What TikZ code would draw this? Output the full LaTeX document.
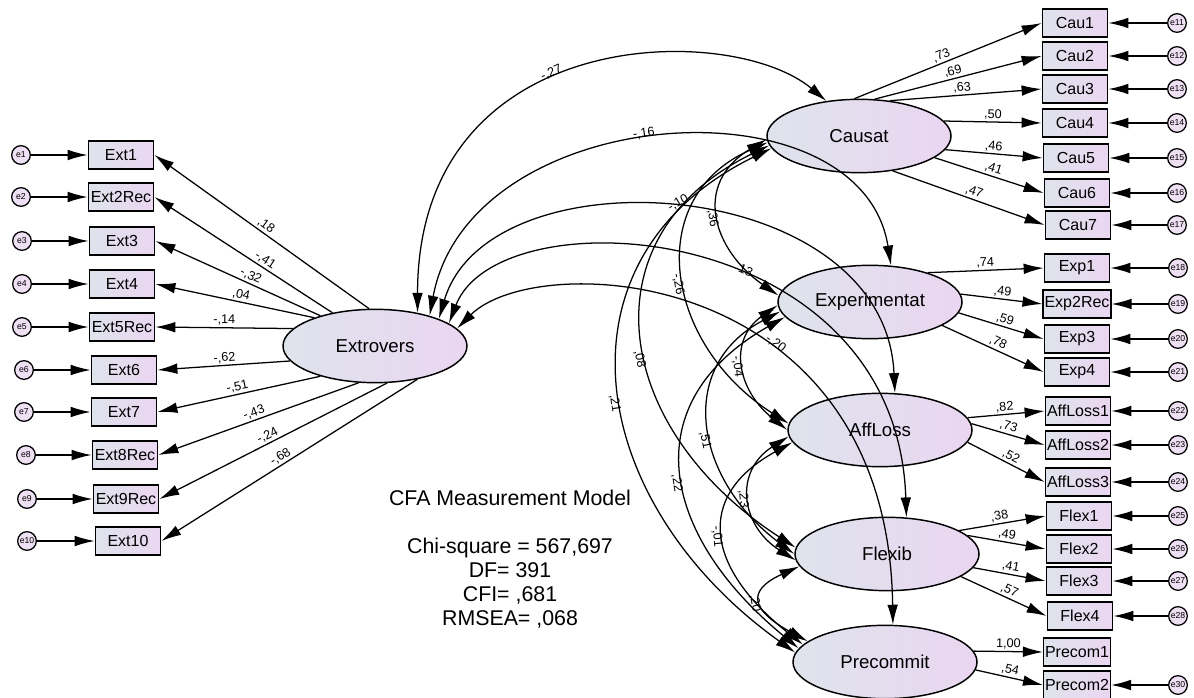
\documentclass[tikz,border=0pt]{standalone}
\usepackage{fontspec}
\setmainfont{Liberation Sans}
\usepackage{xcolor}
\usepackage{tikz}
\usetikzlibrary{arrows.meta,shapes.geometric}

\definecolor{fillL}{HTML}{DFE3EC}
\definecolor{fillR}{HTML}{EAD6F1}
\definecolor{errfill}{HTML}{EFDFF3}

\begin{document}
\begin{tikzpicture}[>={Latex[length=15pt,width=8pt]},x=0.75pt,y=-0.75pt,line width=0.95pt]
\tikzstyle{obs}=[rectangle,draw,line width=1.1pt,left color=fillL,right color=fillR,minimum width=49pt,minimum height=21pt,inner sep=1pt,font=\fontsize{12}{14}\selectfont]
\tikzstyle{lat}=[ellipse,draw,line width=1.1pt,left color=fillL,right color=fillR,minimum width=138pt,minimum height=55pt,inner sep=0pt,font=\fontsize{14}{16}\selectfont]
\tikzstyle{err}=[circle,draw,fill=errfill,minimum size=14pt,inner sep=0pt,font=\fontsize{6.5}{7}\selectfont]
\tikzstyle{lbl}=[inner sep=1.2pt,font=\fontsize{9.5}{10}\selectfont]
\useasboundingbox (0,0) rectangle (1194,698);

% latent factors
\node[lat] (ext) at (375,346) {Extrovers};
\node[lat] (cau) at (859,136) {Causat};
\node[lat] (expe) at (870,302) {Experimentat};
\node[lat] (aff) at (880,430) {AffLoss};
\node[lat] (flx) at (887,554) {Flexib};
\node[lat] (prc) at (885,662) {Precommit};

% Extrovers items
\node[obs] (ext1) at (121,155) {Ext1};
\node[obs] (ext2) at (121,197) {Ext2Rec};
\node[obs] (ext3) at (122,241) {Ext3};
\node[obs] (ext4) at (122,284) {Ext4};
\node[obs] (ext5) at (122,327) {Ext5Rec};
\node[obs] (ext6) at (124,370) {Ext6};
\node[obs] (ext7) at (124,412) {Ext7};
\node[obs] (ext8) at (125,455) {Ext8Rec};
\node[obs] (ext9) at (126,499) {Ext9Rec};
\node[obs] (ext10) at (128,541) {Ext10};
\node[err] (e1) at (21,155) {e1};
\node[err] (e2) at (21,197) {e2};
\node[err] (e3) at (22,241) {e3};
\node[err] (e4) at (22,284) {e4};
\node[err] (e5) at (22,327) {e5};
\node[err] (e6) at (24,370) {e6};
\node[err] (e7) at (24,412) {e7};
\node[err] (e8) at (26,455) {e8};
\node[err] (e9) at (27,499) {e9};
\node[err] (e10) at (27,541) {e10};

% right side items
\node[obs] (cau1) at (1075,23) {Cau1};
\node[obs] (cau2) at (1075,56) {Cau2};
\node[obs] (cau3) at (1075,89) {Cau3};
\node[obs] (cau4) at (1075,123) {Cau4};
\node[obs] (cau5) at (1076,158) {Cau5};
\node[obs] (cau6) at (1077,193) {Cau6};
\node[obs] (cau7) at (1078,225) {Cau7};
\node[obs] (expe1) at (1077,268) {Exp1};
\node[obs] (expe2) at (1077,304) {Exp2Rec};
\node[obs] (expe3) at (1077,339) {Exp3};
\node[obs] (expe4) at (1077,372) {Exp4};
\node[obs] (aff1) at (1078,411) {AffLoss1};
\node[obs] (aff2) at (1078,445) {AffLoss2};
\node[obs] (aff3) at (1078,482) {AffLoss3};
\node[obs] (flx1) at (1079,516) {Flex1};
\node[obs] (flx2) at (1079,549) {Flex2};
\node[obs] (flx3) at (1079,581) {Flex3};
\node[obs] (flx4) at (1080,616) {Flex4};
\node[obs] (prc1) at (1077,652) {Precom1};
\node[obs] (prc2) at (1077,685) {Precom2};
\node[err] (e11) at (1177,23) {e11};
\node[err] (e12) at (1177,56) {e12};
\node[err] (e13) at (1177,89) {e13};
\node[err] (e14) at (1177,123) {e14};
\node[err] (e15) at (1177,158) {e15};
\node[err] (e16) at (1177,193) {e16};
\node[err] (e17) at (1177,225) {e17};
\node[err] (e18) at (1178,268) {e18};
\node[err] (e19) at (1178,304) {e19};
\node[err] (e20) at (1178,339) {e20};
\node[err] (e21) at (1178,372) {e21};
\node[err] (e22) at (1178,411) {e22};
\node[err] (e23) at (1178,445) {e23};
\node[err] (e24) at (1178,482) {e24};
\node[err] (e25) at (1178,516) {e25};
\node[err] (e26) at (1178,549) {e26};
\node[err] (e27) at (1178,581) {e27};
\node[err] (e28) at (1178,616) {e28};
\node[err] (e30) at (1178,685) {e30};

\node[align=center,font=\fontsize{16}{18}\selectfont] (fitinfo) at (510,559) {CFA Measurement Model\\[18pt]Chi-square = 567,697\\DF= 391\\CFI= ,681\\RMSEA= ,068};

% error terms
\draw[->] (e1) -- (ext1);
\draw[->] (e2) -- (ext2);
\draw[->] (e3) -- (ext3);
\draw[->] (e4) -- (ext4);
\draw[->] (e5) -- (ext5);
\draw[->] (e6) -- (ext6);
\draw[->] (e7) -- (ext7);
\draw[->] (e8) -- (ext8);
\draw[->] (e9) -- (ext9);
\draw[->] (e10) -- (ext10);
\draw[->] (e11) -- (cau1);
\draw[->] (e12) -- (cau2);
\draw[->] (e13) -- (cau3);
\draw[->] (e14) -- (cau4);
\draw[->] (e15) -- (cau5);
\draw[->] (e16) -- (cau6);
\draw[->] (e17) -- (cau7);
\draw[->] (e18) -- (expe1);
\draw[->] (e19) -- (expe2);
\draw[->] (e20) -- (expe3);
\draw[->] (e21) -- (expe4);
\draw[->] (e22) -- (aff1);
\draw[->] (e23) -- (aff2);
\draw[->] (e24) -- (aff3);
\draw[->] (e25) -- (flx1);
\draw[->] (e26) -- (flx2);
\draw[->] (e27) -- (flx3);
\draw[->] (e28) -- (flx4);
\draw[->] (e30) -- (prc2);

% loadings
\draw[->] (ext.99) -- (ext1.east) node[lbl,pos=.5,above,sloped] {,18};
\draw[->] (ext.142) -- (ext2.east) node[lbl,pos=.40,above,sloped] {-,41};
\draw[->] (ext.151) -- (ext3.east) node[lbl,pos=.44,above,sloped] {-,32};
\draw[->] (ext.155) -- (ext4.east) node[lbl,pos=.47,above,sloped] {,04};
\draw[->] (ext.168) -- (ext5.east) node[lbl,pos=.5,above,sloped] {-,14};
\draw[->] (ext.190) -- (ext6.east) node[lbl,pos=.49,above,sloped] {-,62};
\draw[->] (ext.209) -- (ext7.east) node[lbl,pos=.5,above,sloped] {-,51};
\draw[->] (ext.246) -- (ext8.east) node[lbl,pos=.51,above,sloped] {-,43};
\draw[->] (ext.288) -- (ext9.east) node[lbl,pos=.51,above,sloped] {-,24};
\draw[->] (ext.322) -- (ext10.east) node[lbl,pos=.52,above,sloped] {-,68};

\draw[->] (cau.97) -- (cau1.west) node[lbl,pos=.48,above,sloped] {,73};
\draw[->] (cau.67) -- (cau2.west) node[lbl,pos=.48,above,sloped] {,69};
\draw[->] (cau.49) -- (cau3.west) node[lbl,pos=.48,above,sloped] {,63};
\draw[->] (cau.10) -- (cau4.west) node[lbl,pos=.5,above,sloped] {,50};
\draw[->] (cau.-9) -- (cau5.west) node[lbl,pos=.49,above,sloped] {,46};
\draw[->] (cau.-16) -- (cau6.west) node[lbl,pos=.52,above,sloped] {,41};
\draw[->] (cau.-46) -- (cau7.west) node[lbl,pos=.52,above,sloped] {,47};

\draw[->] (expe.27) -- (expe1.west) node[lbl,pos=.5,above,sloped] {,74};
\draw[->] (expe.5) -- (expe2.west) node[lbl,pos=.5,above,sloped] {,49};
\draw[->] (expe.-7) -- (expe3.west) node[lbl,pos=.52,above,sloped] {,59};
\draw[->] (expe.-18) -- (expe4.west) node[lbl,pos=.52,above,sloped] {,78};

\draw[->] (aff.8) -- (aff1.west) node[lbl,pos=.49,above,sloped] {,82};
\draw[->] (aff.4) -- (aff2.west) node[lbl,pos=.48,above,sloped] {,73};
\draw[->] (aff.-8) -- (aff3.west) node[lbl,pos=.52,above,sloped] {,52};

\draw[->] (flx.18) -- (flx1.west) node[lbl,pos=.48,above,sloped] {,38};
\draw[->] (flx.13) -- (flx2.west) node[lbl,pos=.49,above,sloped] {,49};
\draw[->] (flx.-9) -- (flx3.west) node[lbl,pos=.5,above,sloped] {,41};
\draw[->] (flx.-17) -- (flx4.west) node[lbl,pos=.53,above,sloped] {,57};

\draw[->] (prc.7) -- (prc1.west) node[lbl,pos=.5,above,sloped] {1,00};
\draw[->] (prc.-5) -- (prc2.west) node[lbl,pos=.49,above,sloped] {,54};

% covariances with Extrovers
\draw[<->] (ext.38) .. controls +(0,-290) and +(-95,-80) .. (cau.133) node[lbl,pos=.44,above,sloped] {-,27};
\draw[<->] (ext.29) .. controls +(40,-215) and +(-30,-190) .. (expe.60) node[lbl,pos=.47,above,sloped] {-,16};
\draw[<->] (ext.23) .. controls +(50,-170) and +(-10,-220) .. (aff.68) node[lbl,pos=.5,rotate=30,anchor=south] {-,10};
\draw[<->] (ext.17) .. controls +(50,-130) and +(-10,-300) .. (flx.62) node[lbl,pos=.58,above,sloped] {13};
\draw[<->] (ext.12) .. controls +(80,-80) and +(-5,-360) .. (prc.78) node[lbl,pos=.62,above,sloped] {-,20};

% covariances among the other factors
\draw[<->] (cau.182) .. controls +(-75,45) and +(-65,-45) .. (expe.176) node[lbl,pos=.5,below,sloped] {,36};
\draw[<->] (cau.184) .. controls +(-125,55) and +(-125,-80) .. (aff.176) node[lbl,pos=.53,below,sloped] {-,26};
\draw[<->] (cau.186) .. controls +(-185,90) and +(-185,-120) .. (flx.176) node[lbl,pos=.55,below,sloped] {,08};
\draw[<->] (cau.188) .. controls +(-225,110) and +(-210,-150) .. (prc.174) node[lbl,pos=.53,below,sloped] {,21};
\draw[<->] (expe.182) .. controls +(-50,35) and +(-50,-40) .. (aff.180) node[lbl,pos=.5,below,sloped] {-,04};
\draw[<->] (expe.186) .. controls +(-105,55) and +(-100,-75) .. (flx.180) node[lbl,pos=.55,below,sloped] {,51};
\draw[<->] (expe.190) .. controls +(-150,85) and +(-140,-115) .. (prc.171) node[lbl,pos=.53,below,sloped] {,22};
\draw[<->] (aff.184) .. controls +(-55,35) and +(-55,-35) .. (flx.184) node[lbl,pos=.5,below,sloped] {,23};
\draw[<->] (aff.188) .. controls +(-100,55) and +(-95,-75) .. (prc.168) node[lbl,pos=.5,below,sloped] {-,01};
\draw[<->] (flx.188) .. controls +(-55,25) and +(-55,-30) .. (prc.165) node[lbl,pos=.5,below,sloped] {,20};
\end{tikzpicture}
\end{document}
